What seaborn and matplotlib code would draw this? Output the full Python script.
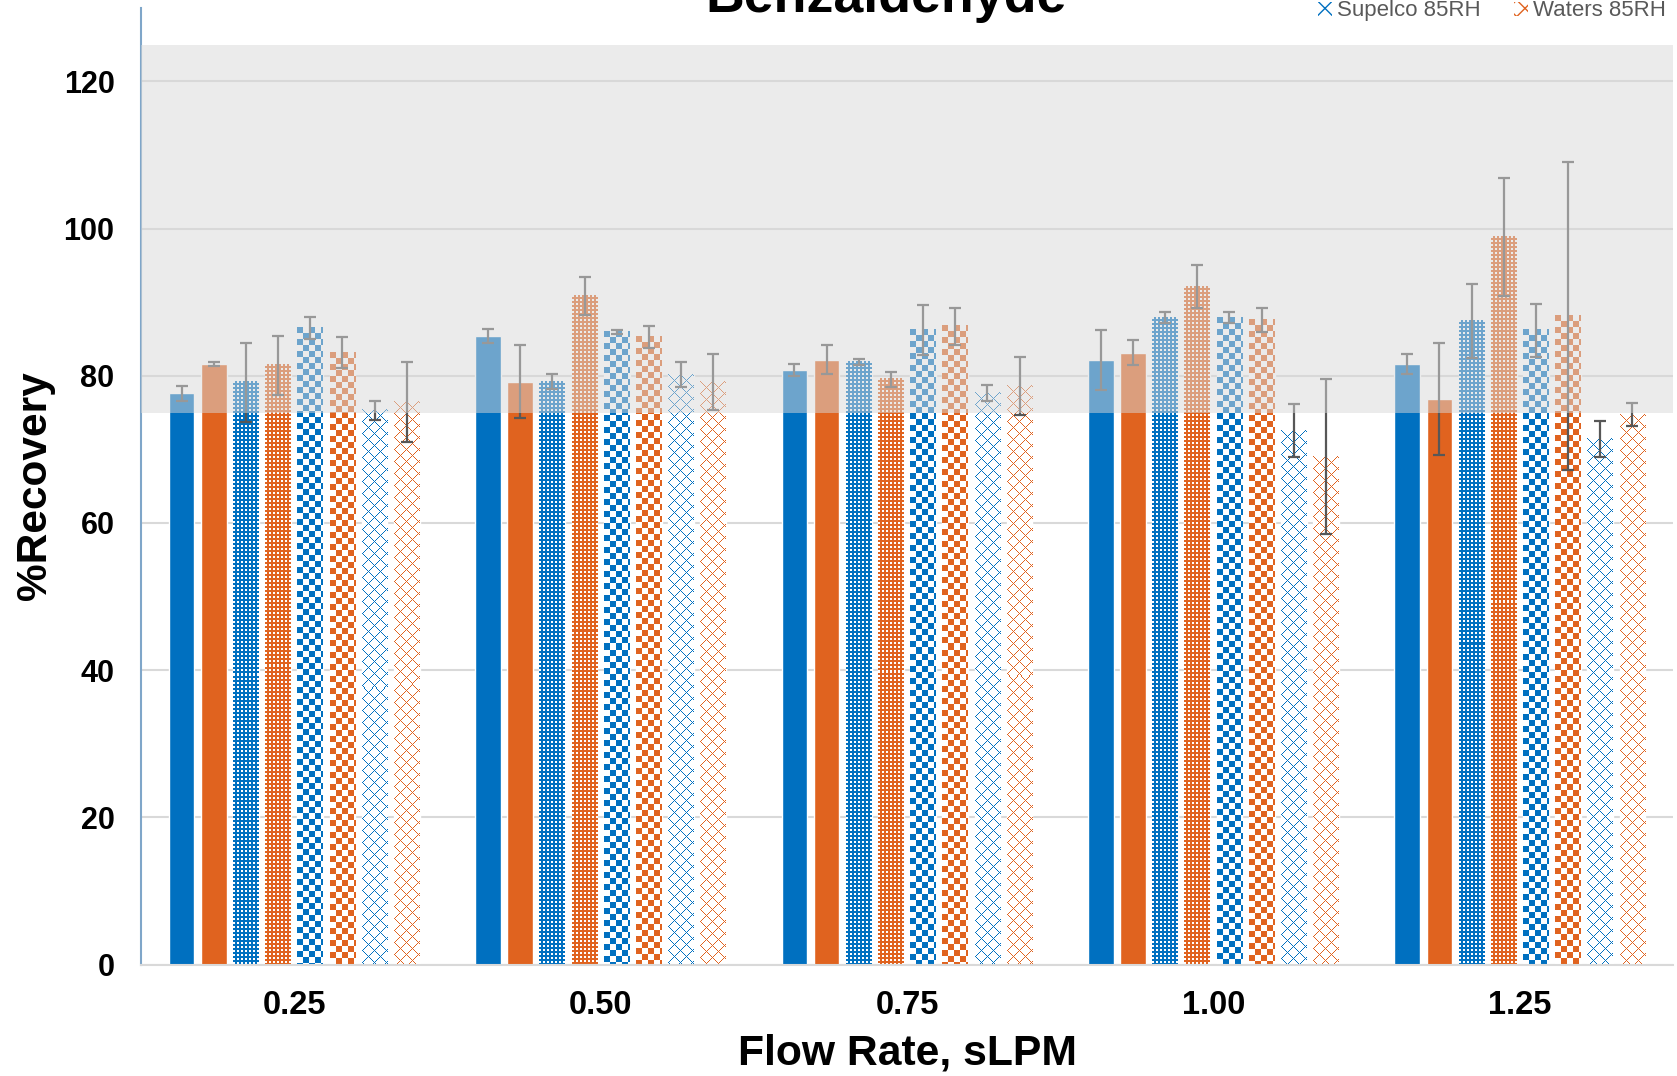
import numpy as np
import pandas as pd
import matplotlib
matplotlib.use("Agg")
import matplotlib.pyplot as plt
import matplotlib.patches as mpatches
from matplotlib.colors import to_rgb
from matplotlib.ticker import MultipleLocator
import seaborn as sns

# ---- data -------------------------------------------------------------
flow_rates = ["0.25", "0.50", "0.75", "1.00", "1.25"]

series_names = ["Supelco 0RH", "Waters 0RH",
                "Supelco 25RH", "Waters 25RH",
                "Supelco 50RH", "Waters 50RH",
                "Supelco 85RH", "Waters 85RH"]

supelco_0 = [77.6, 85.4, 80.8, 82.1, 81.6]
waters_0 = [81.6, 79.2, 82.2, 83.1, 76.8]
supelco_25 = [79.1, 79.2, 81.9, 87.9, 87.4]
waters_25 = [81.4, 90.8, 79.5, 92.1, 98.8]
supelco_50 = [86.5, 85.9, 86.2, 87.9, 86.2]
waters_50 = [83.1, 85.3, 86.7, 87.6, 88.1]
supelco_85 = [75.3, 80.1, 77.7, 72.5, 71.4]
waters_85 = [76.4, 79.2, 78.6, 69.0, 74.7]

supelco_0_err = [1.0, 1.0, 0.8, 4.1, 1.4]
waters_0_err = [0.25, 5.0, 2.0, 1.7, 7.6]
supelco_25_err = [5.4, 1.0, 0.4, 0.7, 5.0]
waters_25_err = [4.0, 2.6, 1.0, 2.9, 8.0]
supelco_50_err = [1.5, 0.3, 3.4, 0.7, 3.6]
waters_50_err = [2.1, 1.5, 2.5, 1.6, 20.9]
supelco_85_err = [1.3, 1.7, 1.1, 3.6, 2.4]
waters_85_err = [5.4, 3.8, 4.0, 10.5, 1.6]

recovery = [supelco_0, waters_0, supelco_25, waters_25,
            supelco_50, waters_50, supelco_85, waters_85]
recovery_err = [supelco_0_err, waters_0_err, supelco_25_err, waters_25_err,
                supelco_50_err, waters_50_err, supelco_85_err, waters_85_err]

# ---- styling ----------------------------------------------------------
BLUE = "#0070C0"
ORANGE = "#E0631F"
series_colors = [BLUE, ORANGE] * 4
series_fills = ["solid", "solid", "dots", "dots",
                "checker", "checker", "cross", "cross"]

sns.set_style("white")
plt.rcParams["font.family"] = ["Liberation Sans", "DejaVu Sans"]
plt.rcParams["text.color"] = "black"
plt.rcParams["axes.labelcolor"] = "black"
plt.rcParams["xtick.labelcolor"] = "black"
plt.rcParams["ytick.labelcolor"] = "black"

df = pd.concat(
    [pd.DataFrame({"flow": flow_rates, "series": name, "recovery": vals})
     for name, vals in zip(series_names, recovery)],
    ignore_index=True,
)

W, H = 1677, 1076
fig = plt.figure(figsize=(W / 100, H / 100), dpi=100)
ax = fig.add_axes([141 / W, 111.5 / H, (1673 - 141) / W, (964.5 - 7.7) / H])

sns.barplot(data=df, x="flow", y="recovery", hue="series",
            order=flow_rates, hue_order=series_names,
            palette=series_colors, saturation=1,
            width=0.84, gap=0.2, errorbar=None, legend=False, ax=ax)

ax.set_xlim(-0.5, 4.5)
ax.set_ylim(0, 130)


def fill_mask(kind, h, w):
    """Boolean mask of coloured pixels for a bar fill pattern."""
    yy, xx = np.mgrid[0:h, 0:w]
    if kind == "dots":
        return ~(((xx % 4) < 2) & ((yy % 4) < 2))
    if kind == "checker":
        return ((xx // 6) + (yy // 6)) % 2 == 0
    if kind == "cross":
        return ((xx + yy) % 12 == 0) | ((xx - yy) % 12 == 0)
    return np.ones((h, w), dtype=bool)


fig.canvas.draw()
for container, kind, color in zip(ax.containers, series_fills, series_colors):
    if kind == "solid":
        continue
    rgb = to_rgb(color)
    for bar in container:
        bb = bar.get_window_extent()
        w = max(int(round(bb.width)), 1)
        h = max(int(round(bb.height)), 1)
        img = np.ones((h, w, 4))
        img[fill_mask(kind, h, w), :3] = rgb
        bar.set_facecolor("white")
        x0 = bar.get_x()
        ax.imshow(img, extent=(x0, x0 + bar.get_width(), 0, bar.get_height()),
                  origin="upper", interpolation="nearest", aspect="auto",
                  zorder=bar.get_zorder() + 0.1)

# error bars on top of each bar
for container, vals, errs in zip(ax.containers, recovery, recovery_err):
    xs = [bar.get_x() + bar.get_width() / 2 for bar in container]
    ax.errorbar(xs, vals, yerr=errs, fmt="none", ecolor="#575757",
                elinewidth=1.6, capsize=4.3, capthick=1.6, zorder=3)

# acceptance window 75-125 %
ax.axhspan(75, 125, facecolor="#D8D8D8", alpha=0.51, lw=0, zorder=4)

ax.set_xlim(-0.5, 4.5)
ax.set_ylim(0, 130)

# ---- axes -------------------------------------------------------------
ax.yaxis.set_major_locator(MultipleLocator(20))
ax.yaxis.set_minor_locator(MultipleLocator(5))
ax.yaxis.grid(True, which="major", color="#D9D9D9", lw=1.5)
ax.set_axisbelow(True)

for side in ("top", "right"):
    ax.spines[side].set_visible(False)
ax.spines["bottom"].set_color("#D9D9D9")
ax.spines["bottom"].set_linewidth(1.5)
ax.spines["left"].set_color("#7FA6C9")
ax.spines["left"].set_linewidth(1.5)

ax.tick_params(axis="y", which="major", length=7, width=1.5,
               color="#1F5F9E", pad=12, labelsize=22)
ax.tick_params(axis="y", which="minor", length=5.5, width=1.5,
               color="#1F5F9E")
ax.tick_params(axis="x", length=0, pad=18.5, labelsize=23.5)
for lbl in ax.get_xticklabels() + ax.get_yticklabels():
    lbl.set_fontweight("bold")

ax.set_xlabel("Flow Rate, sLPM", fontsize=30.7, fontweight="bold", labelpad=9)
ax.set_ylabel("%Recovery", fontsize=30.5, fontweight="bold", labelpad=6)

fig.text(886 / W, 1 - 12 / H, "Benzaldehyde", ha="center", va="baseline",
         fontsize=38.6, fontweight="bold")

# legend, laid out two per row (Supelco | Waters)
hatch_for = {"solid": None, "dots": "....", "checker": "++", "cross": "xx"}
handles = []
for name, kind, color in zip(series_names, series_fills, series_colors):
    if kind == "solid":
        handles.append(mpatches.Patch(facecolor=color, edgecolor=color, lw=0, label=name))
    else:
        handles.append(mpatches.Patch(facecolor="white", edgecolor=color,
                                      hatch=hatch_for[kind], lw=0, label=name))
order = [0, 2, 4, 6, 1, 3, 5, 7]
leg = fig.legend([handles[i] for i in order], [series_names[i] for i in order],
                 ncol=2, loc="lower left",
                 bbox_to_anchor=(1318 / W, 1 - 21.4 / H),
                 bbox_transform=fig.transFigure, frameon=False,
                 borderpad=0, borderaxespad=0, fontsize=16,
                 handlelength=0.65, handleheight=0.6, handletextpad=0.2,
                 columnspacing=1.5, labelspacing=0.6)
for t in leg.get_texts():
    t.set_color("#595959")

fig.savefig("out.png", dpi=100)
